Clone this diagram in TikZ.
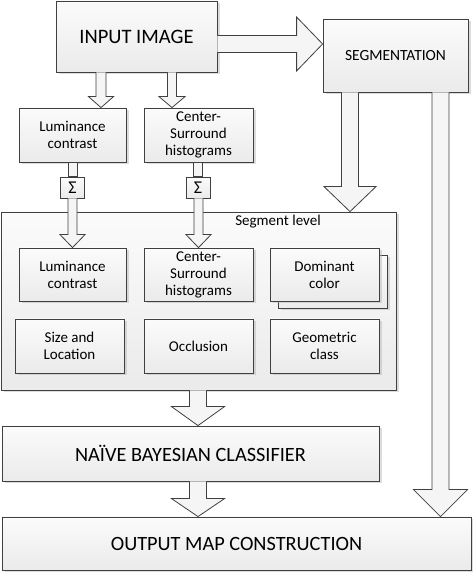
\documentclass[tikz,border=0pt]{standalone}
\usepackage{fontspec}
\setmainfont{Carlito}
\usetikzlibrary{calc,shadows}
\tikzset{
  box/.style={draw=black!75, line width=0.8pt, rectangle, inner sep=0pt, align=center,
    top color=gray!3, bottom color=gray!16,
    drop shadow={shadow xshift=2.5pt, shadow yshift=-2.5pt, fill=black!30, opacity=0.45},
    font=\fontsize{15}{17}\selectfont},
  plainbox/.style={draw=black!75, line width=0.8pt, rectangle, inner sep=0pt, align=center,
    top color=gray!3, bottom color=gray!16},
  barrow/.style={draw=black!75, line width=0.8pt, fill=gray!8, line join=miter},
}
% downward block arrow: #1 from node, #2 to node, #3 x, #4 shaft half, #5 head half, #6 head length
\newcommand\blockdown[6]{%
  \draw[barrow] let \p1=(#1.south), \p2=(#2.north) in
    (#3-#4,\y1) -- (#3-#4,\y2+#6) -- (#3-#5,\y2+#6) -- (#3,\y2) -- (#3+#5,\y2+#6) -- (#3+#4,\y2+#6) -- (#3+#4,\y1);}
% plain shaft: #1 from, #2 to, #3 x, #4 half
\newcommand\shaftdown[4]{%
  \draw[barrow] let \p1=(#1.south), \p2=(#2.north) in
    (#3-#4,\y1) rectangle (#3+#4,\y2);}
\begin{document}
\begin{tikzpicture}[x=1pt,y=1pt]
\useasboundingbox (0,0) rectangle (473,576);
% boxes
\node[box, minimum width=161, minimum height=71, font=\fontsize{20.5}{24}\selectfont] (in) at (136.5,539.5) {INPUT IMAGE};
\node[box, minimum width=145, minimum height=73, font=\fontsize{15.5}{17}\selectfont] (seg) at (395.5,520.5) {SEGMENTATION};
\node[box, minimum width=107, minimum height=54] (lum1) at (72.5,441) {Luminance\\contrast};
\node[box, minimum width=109, minimum height=54] (cs1) at (198.5,441) {Center-\\Surround\\histograms};
\node[plainbox, minimum width=24, minimum height=21, font=\fontsize{18}{20}\selectfont] (sig1) at (72.5,388.5) {Σ};
\node[plainbox, minimum width=24, minimum height=21, font=\fontsize{18}{20}\selectfont] (sig2) at (198,388.5) {Σ};
\node[box, minimum width=395, minimum height=178] (segl) at (198.5,275) {};
\node[font=\fontsize{15}{17}\selectfont] (segtxt) at (278,354) {Segment level};
\node[box, minimum width=107, minimum height=53] (lum2) at (72.5,301.5) {Luminance\\contrast};
\node[box, minimum width=109, minimum height=53] (cs2) at (198.5,301.5) {Center-\\Surround\\histograms};
\node[box, minimum width=109, minimum height=53] (domb) at (332.5,294.5) {};
\node[box, minimum width=109, minimum height=53] (dom) at (324.5,301.5) {Dominant\\color};
\node[box, minimum width=109, minimum height=54] (size) at (69.5,230) {Size and\\Location};
\node[box, minimum width=109, minimum height=54] (occ) at (198.5,230) {Occlusion};
\node[box, minimum width=109, minimum height=54] (geo) at (324.5,230) {Geometric\\class};
\node[box, minimum width=377, minimum height=55, font=\fontsize{20.3}{24}\selectfont] (nb) at (190.5,122.5) {NAÏVE BAYESIAN CLASSIFIER};
\node[box, minimum width=469, minimum height=53, font=\fontsize{20.3}{24}\selectfont] (out) at (236.5,32.5) {OUTPUT MAP CONSTRUCTION};
% arrows
\blockdown{in}{lum1}{101}{5}{12.5}{11}
\blockdown{in}{cs1}{172}{4.5}{13}{11}
\shaftdown{lum1}{sig1}{72.5}{4.5}
\shaftdown{cs1}{sig2}{198}{4.5}
\blockdown{sig1}{lum2}{72.5}{4.5}{12.5}{13}
\blockdown{sig2}{cs2}{198.5}{4.5}{12.5}{13}
\blockdown{seg}{segl}{350}{8.5}{26}{25}
\blockdown{seg}{out}{440.5}{8.5}{27}{27}
\blockdown{segl}{nb}{198}{8.5}{26.5}{19}
\blockdown{nb}{out}{198}{8.5}{26.5}{18}
\draw[barrow] let \p1=(in.east), \p2=(seg.west) in
  (\x1,532-8.5) -- (\x2-26,532-8.5) -- (\x2-26,532-27) -- (\x2,532) -- (\x2-26,532+27) -- (\x2-26,532+8.5) -- (\x1,532+8.5);
\end{tikzpicture}
\end{document}
